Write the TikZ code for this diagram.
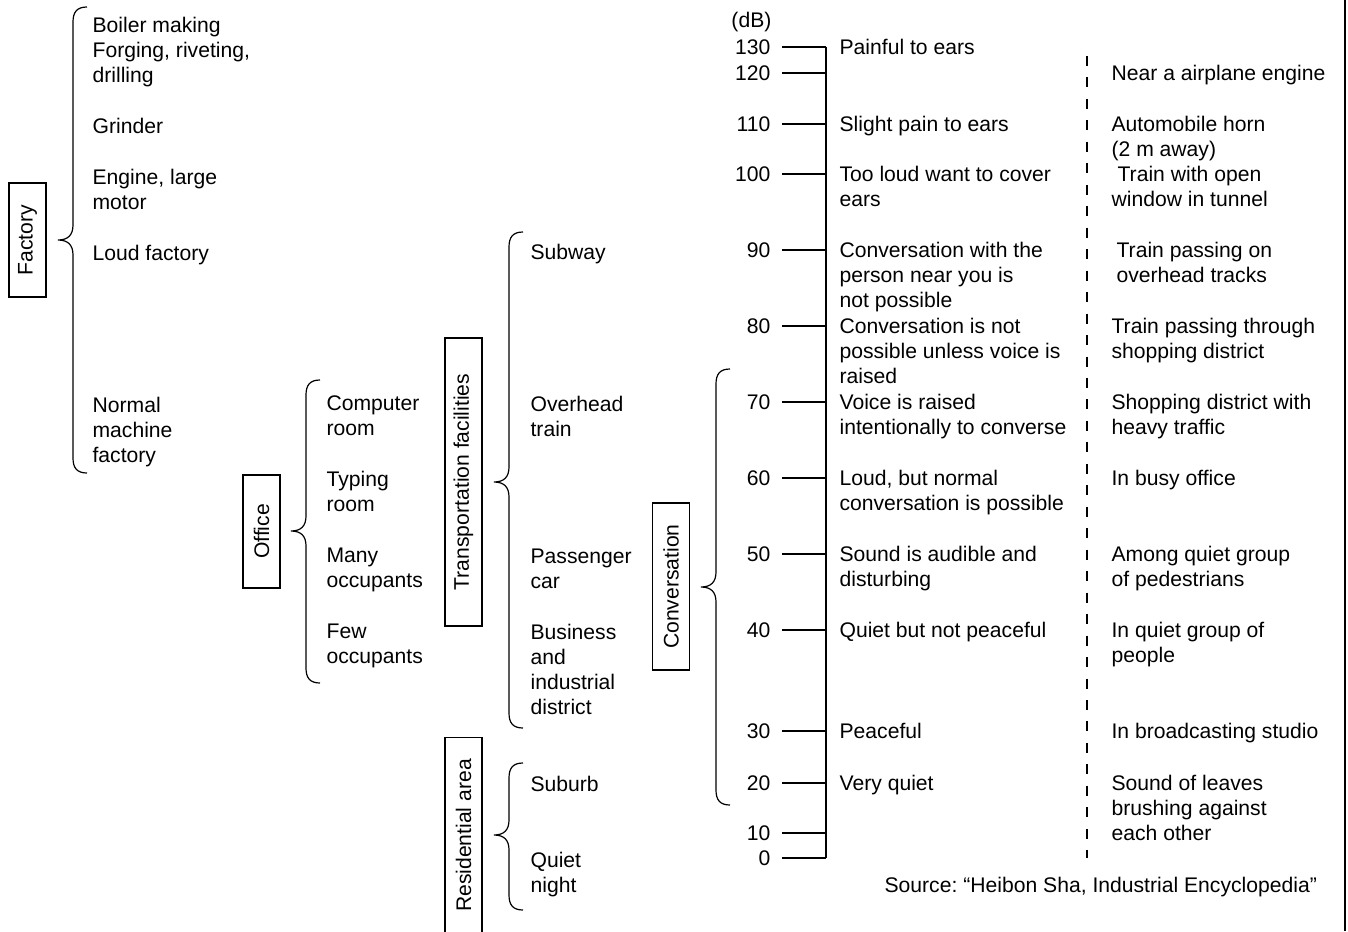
\documentclass[tikz,border=0pt]{standalone}
\usepackage{fontspec}
\setmainfont{Liberation Sans}
\frenchspacing
\begin{document}
\begin{tikzpicture}[x=0.75pt,y=-0.75pt,line width=0.9pt,
  txt/.style={anchor=north west,inner sep=0pt,align=left,yshift=0.75pt,font=\fontsize{15.85}{18.75}\selectfont},
  num/.style={anchor=east,inner sep=0pt,font=\fontsize{15.85}{18.75}\selectfont},
  catbox/.style={draw,line width=0.9pt,rotate=90,inner sep=0pt,minimum height=27.75pt,font=\fontsize{15.85}{18.75}\selectfont},
  brc/.style={line width=0.9pt},
  tick/.style={line width=0.9pt},
  dashline/.style={line width=1pt,dash pattern=on 7.5pt off 8.6pt}]
\clip (0,0) rectangle (1348,931);
\newcommand\mybrace[4]{\draw[brc] (#1+14,#2) .. controls (#1+4,#2) and (#1,#2+5) .. (#1,#2+15) -- (#1,#4-15) .. controls (#1,#4-5) and (#1-5,#4) .. (#1-15,#4) .. controls (#1-5,#4) and (#1,#4+5) .. (#1,#4+15) -- (#1,#3-15) .. controls (#1,#3-5) and (#1+4,#3) .. (#1+14,#3);}

% category boxes
\node[catbox,minimum width=85.5pt] (factory) at (27.5,240) {Factory};
\node[catbox,minimum width=84.75pt] (office) at (261.5,531.5) {Office};
\node[catbox,minimum width=216pt] (transport) at (463.5,482) {Transportation facilities};
\node[catbox,minimum width=147pt] (resid) at (463.5,835.5) {Residential area};
\node[catbox,minimum width=125.25pt] (conv) at (671,586.5) {Conversation};

% braces
\mybrace{73}{7}{473}{240}
\mybrace{306}{380}{683}{531}
\mybrace{509}{232}{728}{482}
\mybrace{509}{763}{910}{835}
\mybrace{716}{369}{805}{587}

% factory items
\node[txt] (f1) at (92,15) {\strut Boiler making\\Forging, riveting,\\drilling};
\node[txt] (f2) at (92,116) {\strut Grinder};
\node[txt] (f3) at (92,167) {\strut Engine, large\\motor};
\node[txt] (f4) at (92,243) {\strut Loud factory};
\node[txt] (f5) at (92,395) {\strut Normal\\machine\\factory};

% office items
\node[txt] (o1) at (326,393) {\strut Computer\\room};
\node[txt] (o2) at (326,469) {\strut Typing\\room};
\node[txt] (o3) at (326,545) {\strut Many\\occupants};
\node[txt] (o4) at (326,621) {\strut Few\\occupants};

% transportation / residential items
\node[txt] (t1) at (530,242) {\strut Subway};
\node[txt] (t2) at (530,394) {\strut Overhead\\train};
\node[txt] (t3) at (530,546) {\strut Passenger\\car};
\node[txt] (t4) at (530,622) {\strut Business\\and\\industrial\\district};
\node[txt] (r1) at (530,774) {\strut Suburb};
\node[txt] (r2) at (530,850) {\strut Quiet\\night};

% scale
\node[num] (db) at (772,22) {(dB)};
\foreach \v/\y in {130/47,120/73,110/124,100/174,90/250,80/326,70/402,60/478,50/554,40/630,30/731,20/783,10/833,0/858}{
  \node[num] (n\v) at (771,\y) {\v};
  \coordinate (s\v) at (826,\y);
  \draw[tick] (782,\y) -- (s\v);
}
\draw[tick] (s130) -- (s0);

% descriptions
\node[txt] (d130) at (839,37) {\strut Painful to ears};
\node[txt] (d110) at (839,114) {\strut Slight pain to ears};
\node[txt] (d100) at (839,164) {\strut Too loud want to cover\\ears};
\node[txt] (d90) at (839,240) {\strut Conversation with the\\person near you is\\not possible};
\node[txt] (d80) at (839,316) {\strut Conversation is not\\possible unless voice is\\raised};
\node[txt] (d70) at (839,392) {\strut Voice is raised\\intentionally to converse};
\node[txt] (d60) at (839,468) {\strut Loud, but normal\\conversation is possible};
\node[txt] (d50) at (839,544) {\strut Sound is audible and\\disturbing};
\node[txt] (d40) at (839,620) {\strut Quiet but not peaceful};
\node[txt] (d30) at (839,721) {\strut Peaceful};
\node[txt] (d20) at (839,773) {\strut Very quiet};

% dashed separator
\coordinate (dtop) at (1087,56);
\coordinate (dbot) at (1087,858);
\draw[dashline] (dtop) -- (dbot);

% examples
\node[txt] (e120) at (1111,63) {\strut Near a airplane engine};
\node[txt] (e110) at (1111,114) {\strut Automobile horn\\(2 m away)};
\node[txt] (e100) at (1111,164) {\strut\hspace*{4.5pt}Train with open\\window in tunnel};
\node[txt] (e90) at (1116,240) {\strut Train passing on\\overhead tracks};
\node[txt] (e80) at (1111,316) {\strut Train passing through\\shopping district};
\node[txt] (e70) at (1111,392) {\strut Shopping district with\\heavy traffic};
\node[txt] (e60) at (1111,468) {\strut In busy office};
\node[txt] (e50) at (1111,544) {\strut Among quiet group\\of pedestrians};
\node[txt] (e40) at (1111,620) {\strut In quiet group of\\people};
\node[txt] (e30) at (1111,721) {\strut In broadcasting studio};
\node[txt] (e20) at (1111,773) {\strut Sound of leaves\\brushing against\\each other};

\node[txt] (src) at (884,875) {\strut Source: “Heibon Sha, Industrial Encyclopedia”};

% right frame edge
\coordinate (rt) at (1345,0);
\coordinate (rb) at (1345,931);
\draw (rt) -- (rb);
\end{tikzpicture}
\end{document}
